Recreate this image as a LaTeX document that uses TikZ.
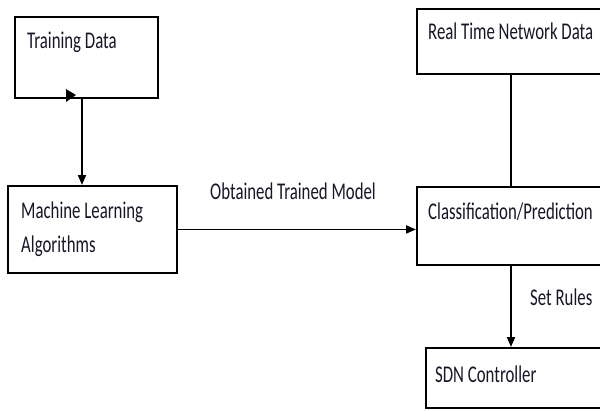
\documentclass[tikz,border=0pt]{standalone}
\usepackage{fontspec}
\setmainfont{Carlito}[FakeStretch=0.7]
\usetikzlibrary{arrows.meta}
\definecolor{textc}{RGB}{22,22,40}
\begin{document}
\begin{tikzpicture}[x=1pt,y=-1pt,
  box/.style={draw=black,line width=1.9pt,rectangle,inner sep=0pt,anchor=north west},
  lbl/.style={anchor=base west,inner sep=0pt,text=textc,font=\fontsize{24}{34}\selectfont},
  arr/.style={line width=1.9pt,-{Triangle[length=10pt,width=8pt]}},
  ln/.style={line width=1.9pt}]
\useasboundingbox (0,0) rectangle (600,410);
% boxes
\node[box,minimum width=143pt,minimum height=81pt] (td) at (14,16) {};
\node[box,minimum width=169pt,minimum height=87pt] (ml) at (7,185) {};
\node[box,minimum width=200pt,minimum height=65pt] (rt) at (416,8) {};
\node[box,minimum width=200pt,minimum height=78pt] (cp) at (416,186) {};
\node[box,minimum width=190pt,minimum height=60pt] (sdn) at (425,347) {};
% texts
\node[lbl] (tdt) at (27,48) {Training Data};
\node[lbl] (mlt1) at (21,218) {Machine Learning};
\node[lbl] (mlt2) at (21,252) {Algorithms};
\node[lbl] (rtt) at (428,39) {Real Time Network Data};
\node[lbl] (cpt) at (428,219) {Classification/Prediction};
\node[lbl] (sdnt) at (435,382) {SDN Controller};
\node[lbl] (otm) at (210,199) {Obtained Trained Model};
\node[lbl] (sr) at (530,305) {Set Rules};
% connector anchors
\coordinate (xa) at (82,0);
\coordinate (xb) at (511,0);
\draw[arr] (td.south -| xa) -- (ml.north -| xa);
\draw[arr] (ml.east) -- (ml.east -| cp.west);
\draw[ln] (rt.south -| xb) -- (cp.north -| xb);
\draw[arr] (cp.south -| xb) -- (sdn.north -| xb);
% stray arrowhead at bottom of Training Data box
\fill[black] (66,89) -- (76,95) -- (66,102) -- cycle;
\end{tikzpicture}
\end{document}
